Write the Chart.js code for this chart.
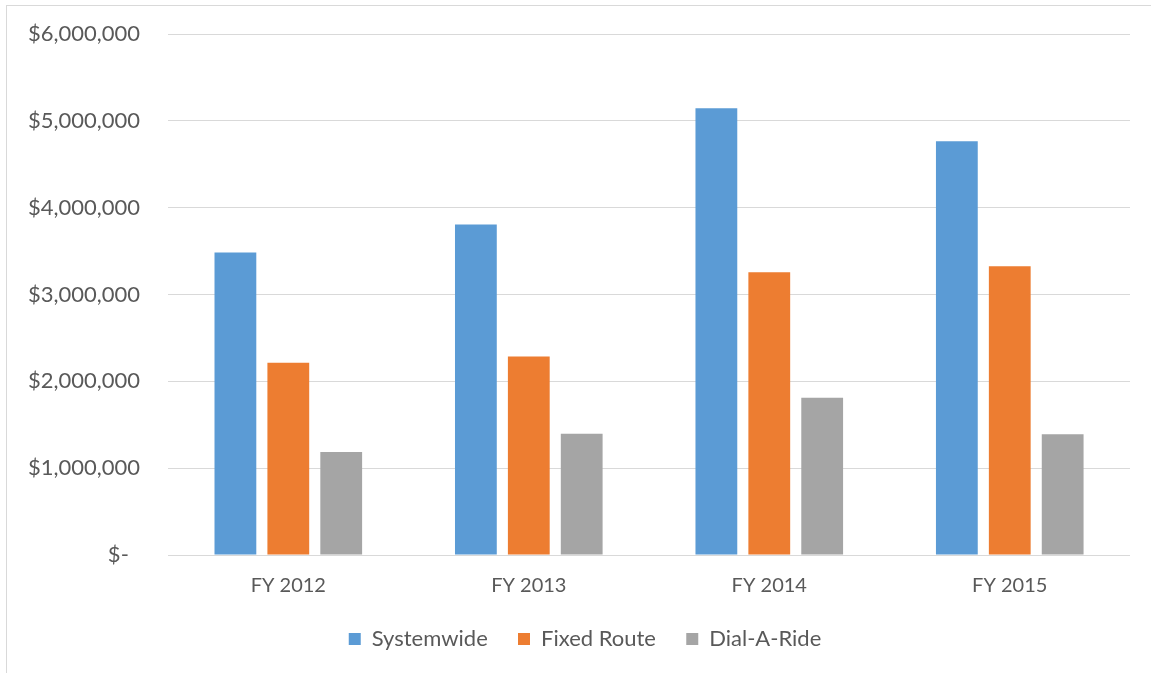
<!DOCTYPE html>
<html>
<head>
<meta charset="utf-8">
<script src="https://cdn.jsdelivr.net/npm/chart.js@4/dist/chart.umd.min.js"></script>
<style>
    html, body { margin: 0; padding: 0; background: #fff; }
    #frame {
        position: absolute; left: 6px; top: 5px; width: 1145px; height: 668px;
        border-left: 1px solid #d9d9d9; border-top: 1px solid #d9d9d9;
    }
    #myChart { position: absolute; left: 0; top: 0; }
</style>
</head>
<body>
<div id="frame"></div>
<canvas id="myChart" width="1151" height="673"></canvas>
<script>
// Data
const years = ['FY 2012', 'FY 2013', 'FY 2014', 'FY 2015'];
const systemwide = [3485000, 3805000, 5145000, 4765000];
const fixedRoute = [2215000, 2285000, 3255000, 3325000];
const dialARide = [1185000, 1395000, 1810000, 1390000];

const textColor = '#595959';
const gridColor = '#d9d9d9';
const fontFamily = 'Lato, "Open Sans", sans-serif';

function formatMoney(value) {
    if (value === 0) return '$-  ';
    return '$' + value.toLocaleString('en-US');
}

// Legend sits a bit right of the canvas centre in the original
const legendShift = {
    id: 'legendShift',
    afterLayout(chart) {
        chart.legend.left += 20;
        chart.legend.right += 20;
    }
};

const ctx = document.getElementById('myChart').getContext('2d');

const myChart = new Chart(ctx, {
    type: 'bar',
    data: {
        labels: years,
        datasets: [
            { label: 'Systemwide', data: systemwide, backgroundColor: '#5b9bd5' },
            { label: 'Fixed Route', data: fixedRoute, backgroundColor: '#ed7d31' },
            { label: 'Dial-A-Ride', data: dialARide, backgroundColor: '#a5a5a5' }
        ]
    },
    plugins: [legendShift],
    options: {
        responsive: false,
        animation: false,
        categoryPercentage: 0.66,
        barPercentage: 0.79,
        layout: {
            padding: { left: 0, right: 21, top: 0, bottom: 13 }
        },
        plugins: {
            title: { display: false },
            tooltip: { enabled: false },
            legend: {
                display: true,
                position: 'bottom',
                labels: {
                    color: textColor,
                    boxWidth: 12,
                    boxHeight: 12,
                    padding: 19,
                    font: { family: fontFamily, size: 22 },
                    // trailing spaces widen the gap between legend entries
                    generateLabels: chart => {
                        const items = Chart.defaults.plugins.legend.labels.generateLabels(chart);
                        items.forEach((item, i) => {
                            if (i < items.length - 1) item.text = item.text + '  ';
                        });
                        return items;
                    }
                }
            }
        },
        scales: {
            x: {
                grid: { display: false },
                border: { display: false },
                ticks: {
                    color: textColor,
                    padding: 11,
                    font: { family: fontFamily, size: 20 }
                }
            },
            y: {
                min: 0,
                max: 6000000,
                grid: { color: gridColor, lineWidth: 1, drawTicks: false },
                border: { display: false },
                ticks: {
                    stepSize: 1000000,
                    color: textColor,
                    padding: 28,
                    font: { family: fontFamily, size: 22 },
                    callback: value => formatMoney(value)
                },
                afterFit: scale => {
                    scale.paddingTop = 34;
                }
            }
        }
    }
});
</script>
</body>
</html>
